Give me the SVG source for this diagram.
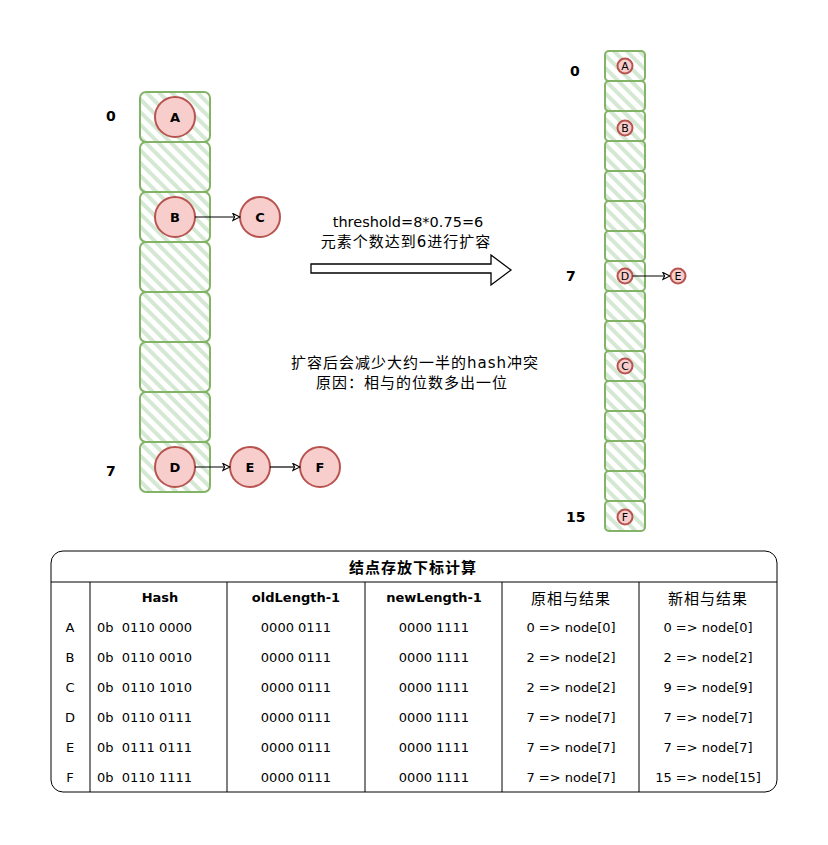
<svg xmlns="http://www.w3.org/2000/svg" width="828" height="845" viewBox="0 0 828 845">
<style>
  .cell { fill: url(#hatch); stroke: #82b366; stroke-width: 2; }
  .node { fill: #f8cecc; stroke: #b85450; stroke-width: 2; }
  .lbl { font-family: "DejaVu Sans", "Noto Sans CJK SC", sans-serif; font-weight: bold; font-size: 14px; fill: #000; }
  .nl { font-family: "DejaVu Sans", sans-serif; font-weight: bold; font-size: 13px; fill: #000; text-anchor: middle; dominant-baseline: central; }
  .ns { font-family: "DejaVu Sans", sans-serif; font-size: 11px; fill: #000; text-anchor: middle; dominant-baseline: central; }
  .t { font-family: "DejaVu Sans", "Noto Sans CJK SC", sans-serif; font-size: 13px; fill: #000; text-anchor: middle; dominant-baseline: central; white-space: pre; }
  .cjk { font-family: "Noto Sans CJK SC", sans-serif; font-size: 15px; letter-spacing: 1px; }
  .mid { font-size: 14.5px; }
  .midc { font-family: "DejaVu Sans", "Noto Sans CJK SC", sans-serif; font-size: 15px; letter-spacing: 1px; }
  .tb { font-weight: bold; }
  .tl { text-anchor: start; }
  .edge { stroke: #000; stroke-width: 1.2; fill: none; marker-end: url(#arr); }
  .grid { stroke: #000; stroke-width: 1; fill: none; }
</style>
<defs>
  <pattern id="hatch" patternUnits="userSpaceOnUse" width="9" height="9" patternTransform="rotate(-45)">
    <rect x="0" y="0" width="9" height="9" fill="#ffffff"/>
    <rect x="0" y="0" width="4" height="9" fill="#d5e8d4"/>
  </pattern>
  <marker id="arr" viewBox="0 0 10 10" refX="9" refY="5" markerWidth="9" markerHeight="9" orient="auto" markerUnits="userSpaceOnUse">
    <path d="M1,1 L9,5 L1,9 L3,5 Z" fill="#fff" stroke="#000" stroke-width="1.2"/>
  </marker>
</defs>
<rect width="828" height="845" fill="#ffffff"/>

<g id="left-array">
  <rect class="cell" x="140" y="92" width="70" height="50" rx="6"/>
  <rect class="cell" x="140" y="142" width="70" height="50" rx="6"/>
  <rect class="cell" x="140" y="192" width="70" height="50" rx="6"/>
  <rect class="cell" x="140" y="242" width="70" height="50" rx="6"/>
  <rect class="cell" x="140" y="292" width="70" height="50" rx="6"/>
  <rect class="cell" x="140" y="342" width="70" height="50" rx="6"/>
  <rect class="cell" x="140" y="392" width="70" height="50" rx="6"/>
  <rect class="cell" x="140" y="442" width="70" height="50" rx="6"/>
</g>
<g id="left-labels">
  <text class="lbl" x="106" y="121">0</text>
  <text class="lbl" x="106" y="476">7</text>
</g>
<g id="node-A"><circle class="node" cx="175" cy="117" r="20"/><text class="nl" x="175" y="117">A</text></g>
<g id="node-B"><circle class="node" cx="175" cy="217" r="20"/><text class="nl" x="175" y="217">B</text></g>
<g id="node-C"><circle class="node" cx="260" cy="217" r="20"/><text class="nl" x="260" y="217">C</text></g>
<g id="node-D"><circle class="node" cx="175" cy="467" r="20"/><text class="nl" x="175" y="467">D</text></g>
<g id="node-E"><circle class="node" cx="250" cy="467" r="20"/><text class="nl" x="250" y="467">E</text></g>
<g id="node-F"><circle class="node" cx="320" cy="467" r="20"/><text class="nl" x="320" y="467">F</text></g>

<g id="right-array">
  <rect class="cell" x="605" y="51" width="40" height="30" rx="4"/>
  <rect class="cell" x="605" y="81" width="40" height="30" rx="4"/>
  <rect class="cell" x="605" y="111" width="40" height="30" rx="4"/>
  <rect class="cell" x="605" y="141" width="40" height="30" rx="4"/>
  <rect class="cell" x="605" y="171" width="40" height="30" rx="4"/>
  <rect class="cell" x="605" y="201" width="40" height="30" rx="4"/>
  <rect class="cell" x="605" y="231" width="40" height="30" rx="4"/>
  <rect class="cell" x="605" y="261" width="40" height="30" rx="4"/>
  <rect class="cell" x="605" y="291" width="40" height="30" rx="4"/>
  <rect class="cell" x="605" y="321" width="40" height="30" rx="4"/>
  <rect class="cell" x="605" y="351" width="40" height="30" rx="4"/>
  <rect class="cell" x="605" y="381" width="40" height="30" rx="4"/>
  <rect class="cell" x="605" y="411" width="40" height="30" rx="4"/>
  <rect class="cell" x="605" y="441" width="40" height="30" rx="4"/>
  <rect class="cell" x="605" y="471" width="40" height="30" rx="4"/>
  <rect class="cell" x="605" y="501" width="40" height="30" rx="4"/>
</g>
<g id="right-labels">
  <text class="lbl" x="570" y="76">0</text>
  <text class="lbl" x="566" y="281">7</text>
  <text class="lbl" x="566" y="522">15</text>
</g>
<g id="node-A2"><circle class="node" cx="625" cy="66" r="7.5"/><text class="ns" x="625" y="66">A</text></g>
<g id="node-B2"><circle class="node" cx="625" cy="128" r="7.5"/><text class="ns" x="625" y="128">B</text></g>
<g id="node-D2"><circle class="node" cx="625" cy="276" r="7.5"/><text class="ns" x="625" y="276">D</text></g>
<g id="node-E2"><circle class="node" cx="678" cy="276" r="7.5"/><text class="ns" x="678" y="276">E</text></g>
<g id="node-C2"><circle class="node" cx="625" cy="366" r="7.5"/><text class="ns" x="625" y="366">C</text></g>
<g id="node-F2"><circle class="node" cx="625" cy="517" r="7.5"/><text class="ns" x="625" y="517">F</text></g>

<g id="connectors">
  <line class="edge" x1="195" y1="217" x2="240" y2="217"/>
  <line class="edge" x1="195" y1="467" x2="230" y2="467"/>
  <line class="edge" x1="270" y1="467" x2="300" y2="467"/>
  <line class="edge" x1="632.5" y1="276" x2="670" y2="276"/>
</g>

<g id="big-arrow">
  <path d="M311,264 L491,264 L491,255 L511,270 L491,285 L491,273 L311,273 Z" fill="#ffffff" stroke="#000" stroke-width="1.3" stroke-linejoin="miter"/>
</g>
<g id="arrow-label">
  <text class="t mid" x="408" y="222">threshold=8*0.75=6</text>
  <text class="t midc" x="406" y="242">元素个数达到6进行扩容</text>
</g>
<g id="note">
  <text class="t midc" x="415" y="363">扩容后会减少大约一半的hash冲突</text>
  <text class="t midc" x="412" y="383">原因：相与的位数多出一位</text>
</g>

<g id="table">
  <rect x="51" y="551" width="726" height="241" rx="12" fill="#ffffff" stroke="#000" stroke-width="1"/>
  <line class="grid" x1="51" y1="582" x2="777" y2="582"/>
  <line class="grid" x1="90" y1="582" x2="90" y2="792"/>
  <line class="grid" x1="227" y1="582" x2="227" y2="792"/>
  <line class="grid" x1="365" y1="582" x2="365" y2="792"/>
  <line class="grid" x1="502" y1="582" x2="502" y2="792"/>
  <line class="grid" x1="639" y1="582" x2="639" y2="792"/>
  <text class="t tb cjk" x="413" y="566">结点存放下标计算</text>

  <text class="t tb" x="160" y="597">Hash</text>
  <text class="t tb" x="296" y="597">oldLength-1</text>
  <text class="t tb" x="434" y="597">newLength-1</text>
  <text class="t cjk" x="571" y="597">原相与结果</text>
  <text class="t cjk" x="708" y="597">新相与结果</text>

  <text class="t" x="70" y="627">A</text>
  <text class="t tl" x="97" y="627" xml:space="preserve">0b  0110 0000</text>
  <text class="t" x="296" y="627">0000 0111</text>
  <text class="t" x="434" y="627">0000 1111</text>
  <text class="t" x="571" y="627">0 =&gt; node[0]</text>
  <text class="t" x="708" y="627">0 =&gt; node[0]</text>

  <text class="t" x="70" y="657">B</text>
  <text class="t tl" x="97" y="657" xml:space="preserve">0b  0110 0010</text>
  <text class="t" x="296" y="657">0000 0111</text>
  <text class="t" x="434" y="657">0000 1111</text>
  <text class="t" x="571" y="657">2 =&gt; node[2]</text>
  <text class="t" x="708" y="657">2 =&gt; node[2]</text>

  <text class="t" x="70" y="687">C</text>
  <text class="t tl" x="97" y="687" xml:space="preserve">0b  0110 1010</text>
  <text class="t" x="296" y="687">0000 0111</text>
  <text class="t" x="434" y="687">0000 1111</text>
  <text class="t" x="571" y="687">2 =&gt; node[2]</text>
  <text class="t" x="708" y="687">9 =&gt; node[9]</text>

  <text class="t" x="70" y="717">D</text>
  <text class="t tl" x="97" y="717" xml:space="preserve">0b  0110 0111</text>
  <text class="t" x="296" y="717">0000 0111</text>
  <text class="t" x="434" y="717">0000 1111</text>
  <text class="t" x="571" y="717">7 =&gt; node[7]</text>
  <text class="t" x="708" y="717">7 =&gt; node[7]</text>

  <text class="t" x="70" y="747">E</text>
  <text class="t tl" x="97" y="747" xml:space="preserve">0b  0111 0111</text>
  <text class="t" x="296" y="747">0000 0111</text>
  <text class="t" x="434" y="747">0000 1111</text>
  <text class="t" x="571" y="747">7 =&gt; node[7]</text>
  <text class="t" x="708" y="747">7 =&gt; node[7]</text>

  <text class="t" x="70" y="777">F</text>
  <text class="t tl" x="97" y="777" xml:space="preserve">0b  0110 1111</text>
  <text class="t" x="296" y="777">0000 0111</text>
  <text class="t" x="434" y="777">0000 1111</text>
  <text class="t" x="571" y="777">7 =&gt; node[7]</text>
  <text class="t" x="708" y="777">15 =&gt; node[15]</text>
</g>
</svg>
